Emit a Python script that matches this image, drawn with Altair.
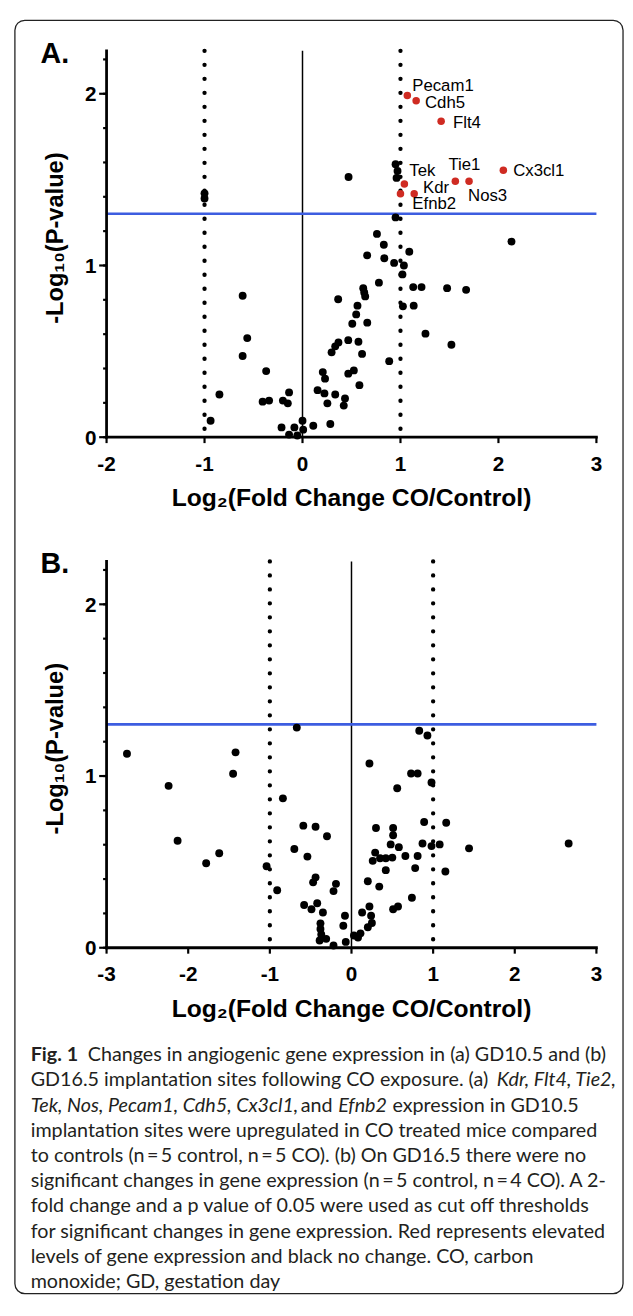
import altair as alt
import pandas as pd

# ---------------- data ----------------
# Panel A (GD10.5): black = no change
a_black_x = [-1.0, -1.0, 0.95, 0.97, 0.96, 0.47, 0.95, 0.76, 0.83, 0.66, 0.835, 1.09,
             0.935, 1.035, 1.02, 0.78, 1.13, 1.215, 1.476, 1.67, 0.62, 0.63, 0.64, 0.364,
             1.025, 1.135, 0.561, 0.548, 0.508, 0.661, 1.255, 1.52, 0.467, 0.571, 0.367, 0.334,
             0.297, 0.608, 0.885, 0.207, 0.23, 0.467, 0.524, 0.581, 0.154, 0.224, 0.334, 0.254,
             0.434, 0.421, 0.284, 0.11, 0.0, 0.007, -0.083, -0.137, -0.053, -0.214, -0.137, -0.15,
             -0.2, -0.341, -0.407, -0.371, -0.564, -0.611, -0.611, -0.848, -0.938, 2.133]
a_black_y = [1.42, 1.39, 1.59, 1.55, 1.51, 1.515, 1.28, 1.184, 1.121, 1.059, 1.042, 1.08,
             1.015, 1.0, 0.948, 0.90, 0.874, 0.874, 0.868, 0.858, 0.868, 0.843, 0.82, 0.803,
             0.762, 0.766, 0.766, 0.715, 0.661, 0.667, 0.603, 0.538, 0.565, 0.556, 0.552, 0.529,
             0.494, 0.485, 0.443, 0.379, 0.341, 0.37, 0.389, 0.303, 0.274, 0.255, 0.249, 0.197,
             0.226, 0.184, 0.077, 0.067, 0.096, 0.044, 0.057, 0.015, 0.01, 0.057, 0.261, 0.197,
             0.213, 0.213, 0.207, 0.385, 0.577, 0.824, 0.473, 0.249, 0.096, 1.139]

# Panel A: red = elevated
a_red_gene = ["Pecam1", "Cdh5", "Flt4", "Cx3cl1", "Tie1", "Nos3", "Tek", "Kdr", "Efnb2"]
a_red_x = [1.07, 1.16, 1.415, 2.05, 1.56, 1.70, 1.04, 1.14, 1.0]
a_red_y = [1.99, 1.96, 1.84, 1.555, 1.49, 1.49, 1.475, 1.418, 1.418]

# Panel B (GD16.5)
b_x = [-2.75, -2.24, -2.13, -1.78, -1.62, -1.45, -1.42, -0.67, -1.04, -0.91, -0.84,
       -0.59, -0.44, -0.30, -0.70, -0.54, -0.44, -0.47, -0.19, -0.22,
       -0.58, -0.49, -0.42, -0.35, -0.38, -0.38, -0.37, -0.31, -0.39, -0.22,
       -0.08, -0.10, -0.07, 0.03, 0.11, 0.13, 0.22, 0.24, 0.25, 0.20, 0.08,
       0.22, 0.30, 0.20, 0.34, 0.42, 0.51, 0.57, 0.83, 0.93, 0.73, 0.81, 0.98, 0.56,
       0.89, 1.16, 0.51, 0.51, 0.48, 0.58, 0.87, 0.98, 1.08, 1.44, 2.66,
       0.29, 0.26, 0.35, 0.42, 0.50, 0.66, 0.81, 0.78, 1.15, 0.74]
b_y = [1.13, 0.943, 0.623, 0.492, 0.55, 1.013, 1.138, 1.282, 0.475, 0.335, 0.87,
       0.711, 0.705, 0.649, 0.575, 0.531, 0.41, 0.381, 0.372, 0.33,
       0.249, 0.224, 0.259, 0.205, 0.142, 0.109, 0.077, 0.052, 0.042, 0.013,
       0.186, 0.128, 0.034, 0.071, 0.084, 0.205, 0.24, 0.186, 0.144, 0.119, 0.06,
       1.073, 0.697, 0.387, 0.356, 0.452, 0.224, 0.24, 1.264, 1.236, 1.015, 1.015, 0.962, 0.929,
       0.732, 0.728, 0.697, 0.655, 0.602, 0.586, 0.607, 0.592, 0.602, 0.579, 0.607,
       0.554, 0.506, 0.521, 0.521, 0.525, 0.534, 0.534, 0.464, 0.444, 0.291]

# thresholds and ticks
fc_cut = [-1, 1]
zero_line = [0]
p_cut = [1.301]
y_domain = [0, 2.25]
y_major = [0, 1, 2]
y_minor = [0.0, 0.2, 0.4, 0.6, 0.8, 1.0, 1.2, 1.4, 1.6, 1.8, 2.0, 2.2]
a_xdomain = [-2, 3]
a_xticks = [-2, -1, 0, 1, 2, 3]
b_xdomain = [-3, 3]
b_xticks = [-3, -2, -1, 0, 1, 2, 3]

XTITLE = "Log\u2082(Fold Change CO/Control)"
YTITLE = "-Log\u2081\u2080(P-value)"

# caption text
cap_line = [0, 0, 1, 1, 2, 2, 2, 2, 3, 4, 5, 6, 7, 8, 9]
cap_text = [
    "Fig. 1",
    "Changes in angiogenic gene expression in (a) GD10.5 and (b)",
    "GD16.5 implantation sites following CO exposure. (a)",
    "Kdr, Flt4, Tie2,",
    "Tek, Nos, Pecam1, Cdh5, Cx3cl1,",
    "and",
    "Efnb2",
    "expression in GD10.5",
    "implantation sites were upregulated in CO treated mice compared",
    "to controls (n\u2009=\u20095 control, n\u2009=\u20095 CO). (b) On GD16.5 there were no",
    "significant changes in gene expression (n\u2009=\u20095 control, n\u2009=\u20094 CO). A 2-",
    "fold change and a p value of 0.05 were used as cut off thresholds",
    "for significant changes in gene expression. Red represents elevated",
    "levels of gene expression and black no change. CO, carbon",
    "monoxide; GD, gestation day",
]
cap_style = ["bold", "regular", "regular", "italic", "italic", "regular", "italic", "regular",
             "regular", "regular", "regular", "regular", "regular", "regular", "regular"]
cap_anchor = [30, 88, 30, 503, 30, 304, 342, 397, 30, 30, 30, 30, 30, 30, 30]

# ---------------- styling / layout ----------------
W, H = 497, 392                 # data area of each panel
ML, MR, MT, MB = 10, 8, 8, 10   # extra room inside each panel view
PW, PH = W + ML + MR, H + MT + MB
FONT = "Liberation Sans"
RED = "#cf2b22"
BLUE = "#3d5de0"
label_offsets = {"Pecam1": (5, -10), "Cdh5": (9, 2), "Flt4": (12, 2), "Cx3cl1": (10, 1),
                 "Tie1": (-7, -16), "Nos3": (-1, 15), "Tek": (5, -13), "Kdr": (9, -6),
                 "Efnb2": (12, 11)}


def panel(bx, by, xdom, xticks, letter, red=False, box=False):
    xs = alt.Scale(domain=xdom, range=[ML, ML + W], nice=False, zero=False)
    ys = alt.Scale(domain=y_domain, range=[MT + H, MT], nice=False, zero=False)
    X = lambda f: alt.X(f, scale=xs, axis=None)
    Y = lambda f: alt.Y(f, scale=ys, axis=None)
    one = pd.DataFrame({"k": [0]})
    layers = []
    if box:
        layers.append(alt.Chart(one).mark_rect(fillOpacity=0, stroke="#222", strokeWidth=1.3,
                                               cornerRadius=10)
                      .encode(x=alt.value(-83), x2=alt.value(534), y=alt.value(-23),
                              y2=alt.value(1269)))
    # threshold lines
    layers.append(alt.Chart(pd.DataFrame({"x": fc_cut})).mark_rule(
        color="black", strokeWidth=4.4, strokeDash=[0, 14.2], strokeCap="round")
        .encode(x=X("x:Q"), y=alt.value(MT), y2=alt.value(MT + H)))
    layers.append(alt.Chart(pd.DataFrame({"x": zero_line})).mark_rule(color="black", strokeWidth=1.5)
                  .encode(x=X("x:Q"), y=alt.value(MT), y2=alt.value(MT + H)))
    layers.append(alt.Chart(pd.DataFrame({"y": p_cut})).mark_rule(color=BLUE, strokeWidth=2.6)
                  .encode(y=Y("y:Q"), x=alt.value(ML), x2=alt.value(ML + W)))
    # axis lines: drawn as lines through the scale domain ends
    layers.append(alt.Chart(pd.DataFrame({"x": [xdom[0], xdom[1]], "y": [y_domain[0], y_domain[0]]}))
                  .mark_line(color="black", strokeWidth=2.8, strokeCap="square")
                  .encode(x=X("x:Q"), y=Y("y:Q")))
    layers.append(alt.Chart(pd.DataFrame({"x": [xdom[0], xdom[0]], "y": [y_domain[0], y_domain[1]]}))
                  .mark_line(color="black", strokeWidth=2.8, strokeCap="square")
                  .encode(x=X("x:Q"), y=Y("y:Q")))
    # tick marks
    layers.append(alt.Chart(pd.DataFrame({"x": xticks})).mark_tick(
        orient="vertical", thickness=2.2, size=6, color="black", opacity=1)
        .encode(x=X("x:Q"), y=alt.value(MT + H + 3)))
    layers.append(alt.Chart(pd.DataFrame({"y": y_minor})).mark_tick(
        orient="horizontal", thickness=2.2, size=3.5, color="black", opacity=1)
        .encode(y=Y("y:Q"), x=alt.value(ML - 1.75)))
    layers.append(alt.Chart(pd.DataFrame({"y": y_major})).mark_tick(
        orient="horizontal", thickness=2.2, size=7.5, color="black", opacity=1)
        .encode(y=Y("y:Q"), x=alt.value(ML - 3.75)))
    # points
    layers.append(alt.Chart(pd.DataFrame({"x": bx, "y": by})).mark_circle(size=64, color="black", opacity=1)
                  .encode(x=X("x:Q"), y=Y("y:Q")))
    if red:
        rdf = pd.DataFrame({"x": a_red_x, "y": a_red_y, "gene": a_red_gene})
        layers.append(alt.Chart(rdf).mark_circle(size=58, color=RED, opacity=1)
                      .encode(x=X("x:Q"), y=Y("y:Q")))
        for g in a_red_gene:
            dx, dy = label_offsets[g]
            layers.append(alt.Chart(rdf).transform_filter(alt.datum.gene == g)
                          .mark_text(align="left", baseline="middle", dx=dx, dy=dy, fontSize=17,
                                     font=FONT, color="black")
                          .encode(x=X("x:Q"), y=Y("y:Q"), text="gene:N"))
    # tick labels
    xl = pd.DataFrame({"x": xticks, "lab": [str(t) for t in xticks]})
    layers.append(alt.Chart(xl).mark_text(align="center", baseline="alphabetic", fontSize=21,
                                          fontWeight="bold", font=FONT, color="black")
                  .encode(x=X("x:Q"), y=alt.value(MT + H + 34), text="lab:N"))
    yl = pd.DataFrame({"y": y_major, "lab": [str(t) for t in y_major]})
    layers.append(alt.Chart(yl).mark_text(align="right", baseline="alphabetic", dy=7.5, fontSize=21,
                                          fontWeight="bold", font=FONT, color="black")
                  .encode(y=Y("y:Q"), x=alt.value(ML - 10.3), text="lab:N"))
    # axis titles
    layers.append(alt.Chart(one).mark_text(text=XTITLE, align="center", baseline="alphabetic",
                                           fontSize=25, fontWeight="bold", font=FONT, color="black")
                  .encode(x=alt.value(ML + W / 2), y=alt.value(MT + 462)))
    layers.append(alt.Chart(one).mark_text(text=YTITLE, align="center", baseline="alphabetic",
                                           angle=270, fontSize=24, fontWeight="bold", font=FONT,
                                           color="black")
                  .encode(x=alt.value(ML - 44.5), y=alt.value(MT + 190)))
    layers.append(alt.Chart(one).mark_text(text=letter, align="left", baseline="alphabetic",
                                           fontSize=29, fontWeight="bold", font=FONT, color="black")
                  .encode(x=alt.value(ML - 67), y=alt.value(MT + 12)))
    return alt.layer(*layers).properties(width=PW, height=PH)


pA = panel(a_black_x, a_black_y, a_xdomain, a_xticks, "A.", red=True, box=True)
pB = panel(b_x, b_y, b_xdomain, b_xticks, "B.")

cap_df = pd.DataFrame({"line": cap_line, "text": cap_text, "style": cap_style, "px": cap_anchor})
cxs = alt.Scale(domain=[0, 633], range=[-97, 536])
cys = alt.Scale(domain=[0, 9], range=[-9, 221.4])
cap_layers = []
for st in ["regular", "bold", "italic"]:
    sub = cap_df[cap_df["style"] == st]
    kw = dict(align="left", baseline="middle", fontSize=20, font="Lato", color="#231f20")
    if st == "bold":
        kw["fontWeight"] = "bold"
    if st == "italic":
        kw["fontStyle"] = "italic"
    cap_layers.append(alt.Chart(sub).mark_text(**kw).encode(
        x=alt.X("px:Q", scale=cxs, axis=None), y=alt.Y("line:Q", scale=cys, axis=None),
        text="text:N"))
cap = alt.layer(*cap_layers).properties(width=W, height=200)

chart = (alt.vconcat(pA, pB, cap, spacing=126 - MT - MB, bounds="flush")
         .properties(padding={"left": 5, "top": 1, "right": 0, "bottom": 0})
         .configure_view(stroke="transparent"))

chart.save("out.html", embed_options={"renderer": "svg", "actions": False})
